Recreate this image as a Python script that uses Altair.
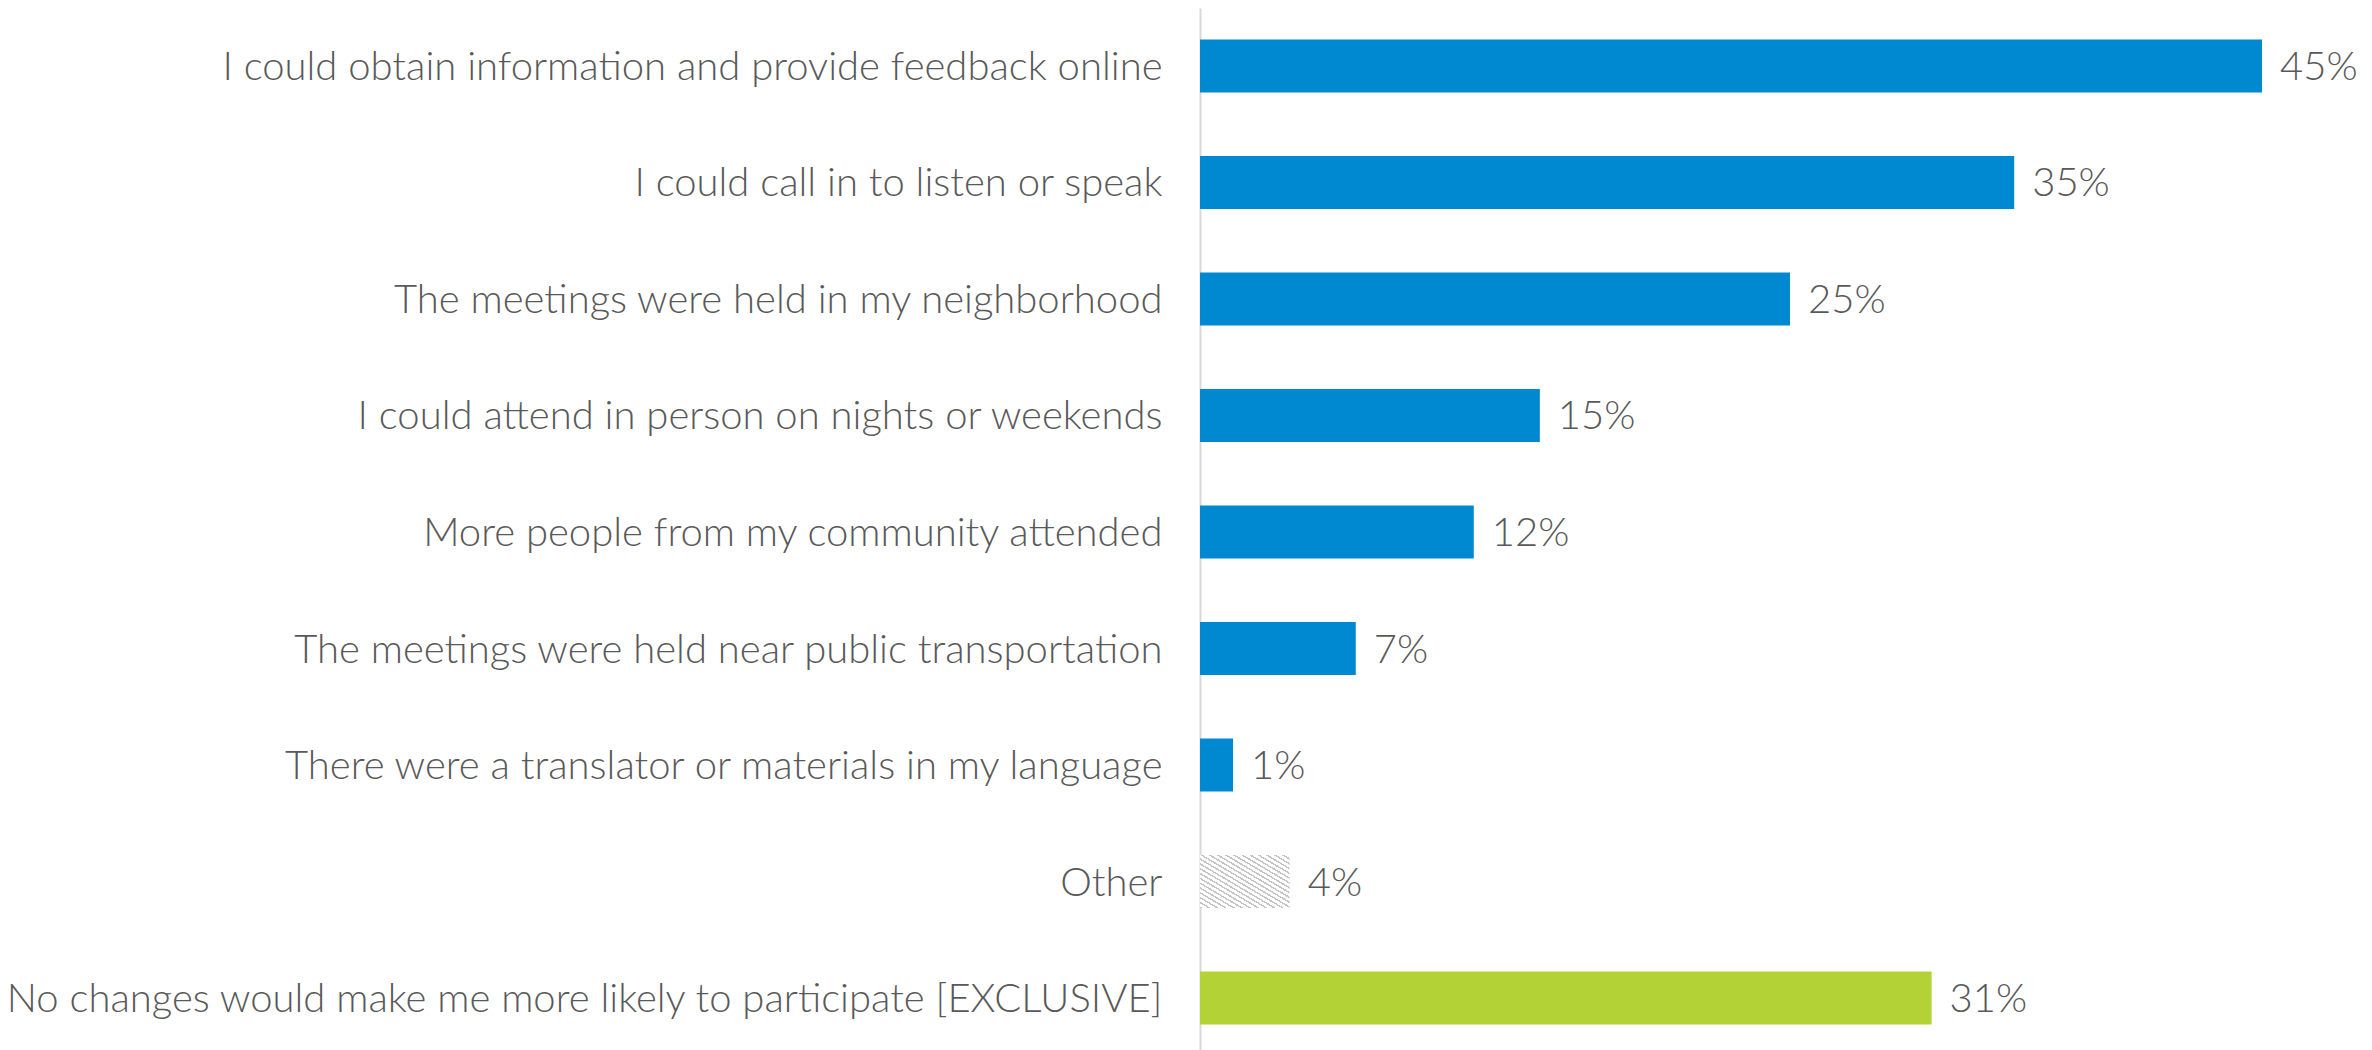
import altair as alt
import pandas as pd

categories = [
    "I could obtain information and provide feedback online",
    "I could call in to listen or speak",
    "The meetings were held in my neighborhood",
    "I could attend in person on nights or weekends",
    "More people from my community attended",
    "The meetings were held near public transportation",
    "There were a translator or materials in my language",
    "Other\u00a0",
    "No changes would make me more likely to participate [EXCLUSIVE]",
]
values = [45, 34.5, 25, 14.4, 11.6, 6.6, 1.4, 3.8, 31]
labels = ["45%", "35%", "25%", "15%", "12%", "7%", "1%", "4%", "31%"]
groups = ["main", "main", "main", "main", "main", "main", "main", "other", "none"]

df = pd.DataFrame({"cat": categories, "value": values, "label": labels, "group": groups})

FONT = "Lato"
TXT = "#595959"
FS = 40

# diagonal hatch via gradient with hard stops
N = 22
stops = []
for i in range(N):
    a = i / N
    b = (i + 0.35) / N
    c = (i + 1) / N
    stops += [
        alt.GradientStop(offset=a, color="#c4c4c4"),
        alt.GradientStop(offset=b, color="#c4c4c4"),
        alt.GradientStop(offset=b, color="#ffffff"),
        alt.GradientStop(offset=c, color="#ffffff"),
    ]
hatch = alt.Gradient(gradient="linear", x1=0, y1=1, x2=1, y2=0, stops=stops)

y_enc = alt.Y(
    "cat:N",
    sort=categories,
    scale=alt.Scale(paddingInner=0.545, paddingOuter=0.27),
    axis=alt.Axis(
        title=None,
        ticks=False,
        labelFont=FONT,
        labelFontSize=FS,
        labelFontWeight=300,
        labelColor=TXT,
        labelPadding=38,
        labelLimit=1200,
        labelOffset=2,
        domainColor="#d9d9d9",
        domainWidth=2,
    ),
)
x_enc = alt.X("value:Q", scale=alt.Scale(domain=[0, 1160 / 23.6], nice=False), axis=None)

base = alt.Chart(df)

bars = base.transform_filter(alt.datum.group != "other").mark_bar().encode(
    y=y_enc,
    x=x_enc,
    color=alt.Color(
        "group:N",
        scale=alt.Scale(domain=["main", "none"], range=["#0088d1", "#b2d235"]),
        legend=None,
    ),
)

other = base.transform_filter(alt.datum.group == "other").mark_bar(fill=hatch).encode(
    y=y_enc, x=x_enc
)

text = base.mark_text(
    align="left", baseline="middle", dx=18, dy=2, font=FONT, fontSize=FS, fontWeight=300, color=TXT
).encode(y=y_enc, x=x_enc, text="label:N")

chart = (
    alt.layer(bars, other, text)
    .properties(
        width=1160,
        height=1048,
        autosize=alt.AutoSizeParams(type="none"),
        padding={"left": 1192, "top": 0, "right": 0, "bottom": 0},
    )
    .configure_view(stroke=None)
)

chart.save("out.html", embed_options={"renderer": "svg", "actions": False})
